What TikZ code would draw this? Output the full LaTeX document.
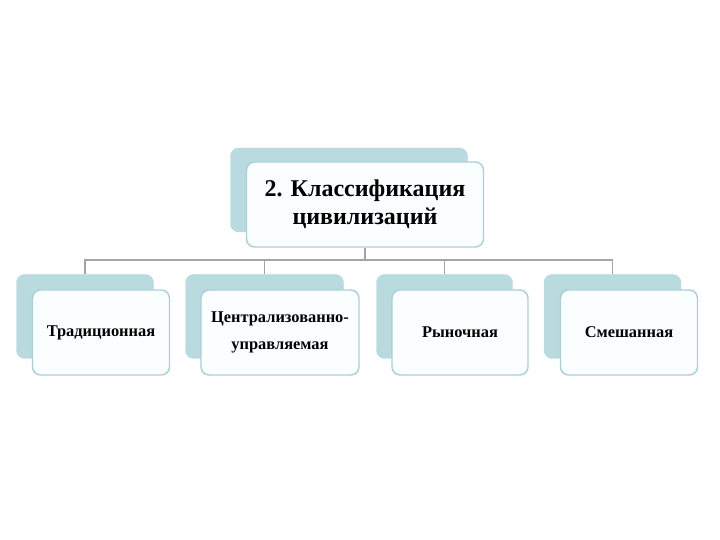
\documentclass[tikz,border=0pt]{standalone}
\usepackage{fontspec}
\setmainfont{Liberation Serif}
\usetikzlibrary{positioning}
\definecolor{backteal}{RGB}{185,218,223}
\definecolor{edgeteal}{RGB}{170,208,214}
\definecolor{frontfill}{RGB}{251,254,254}
\definecolor{linegray}{RGB}{160,165,165}
\tikzset{backbox/.style={rounded corners=7, draw=backteal, fill=backteal, inner sep=0pt, minimum height=84*0.03cm}}
\tikzset{frontbox/.style={rounded corners=7, draw=edgeteal, line width=1.2pt, fill=frontfill, inner sep=0pt, minimum height=85*0.03cm, align=center, font=\bfseries\fontsize{14}{23}\selectfont}}
\tikzset{conn/.style={draw=linegray, line width=1pt}}
\begin{document}
\begin{tikzpicture}[x=0.03cm, y=-0.03cm]
    \useasboundingbox (0,0) rectangle (720,540);
    % top level
    \node[backbox, minimum width=237*0.03cm] (topb) at (349,190) {};
    \node[frontbox, minimum width=237*0.03cm, font=\bfseries\fontsize{20.5}{24}\selectfont] (top) at (365,204.5) {2. Классификация\\цивилизаций};
    % second level
    \node[backbox, minimum width=137*0.03cm] (tradb) at (85,316.5) {};
    \node[frontbox, minimum width=137*0.03cm] (trad) at (101,332.5) {Традиционная};
    \node[backbox, minimum width=158*0.03cm] (centb) at (264.5,316.5) {};
    \node[frontbox, minimum width=158*0.03cm] (cent) at (280,332.5) {Централизованно-\\управляемая};
    \node[backbox, minimum width=136*0.03cm] (markb) at (444.5,316.5) {};
    \node[frontbox, minimum width=136*0.03cm] (mark) at (460,332.5) {Рыночная};
    \node[backbox, minimum width=137*0.03cm] (mixb) at (612.5,316.5) {};
    \node[frontbox, minimum width=137*0.03cm] (mix) at (629,332.5) {Смешанная};
    % connectors
    \coordinate (hub) at (365,260);
    \draw[conn] (top.south) -- (hub);
    \foreach \b in {tradb,centb,markb,mixb}
        \draw[conn] (hub) -| (\b.north);
\end{tikzpicture}
\end{document}
